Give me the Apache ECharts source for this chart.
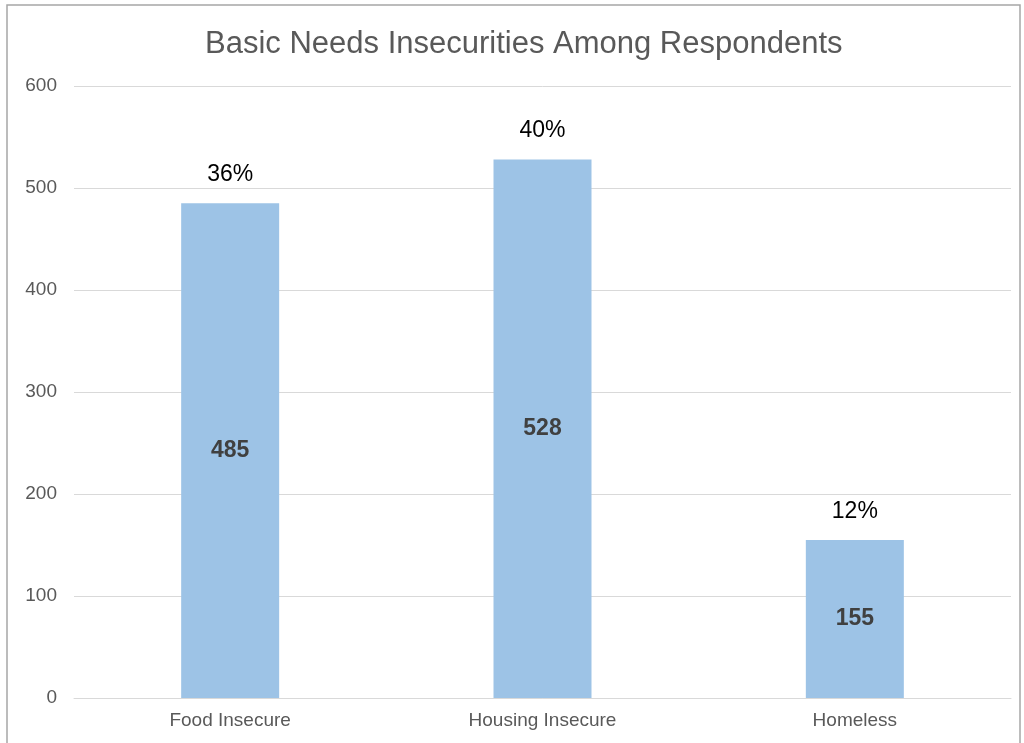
<!DOCTYPE html>
<html>
<head>
<meta charset="utf-8">
<script src="https://cdn.jsdelivr.net/npm/echarts@6/dist/echarts.min.js"></script>
<style>
  html, body { margin: 0; padding: 0; background: #fff; }
  #chart { width: 1024px; height: 743px; }
</style>
</head>
<body>
<div id="chart"></div>
<script>
  const categories = ["Food Insecure", "Housing Insecure", "Homeless"];
  const counts = [485, 528, 155];
  const percents = ["36%", "40%", "12%"];

  const chart = echarts.init(document.getElementById("chart"), null, { renderer: "canvas" });

  const option = {
    animation: false,
    backgroundColor: "#fff",
    graphic: [
      {
        type: "rect",
        shape: { x: 7, y: 5, width: 1013, height: 760 },
        style: { fill: "none", stroke: "#a6a6a6", lineWidth: 1.5 },
        silent: true,
      },
    ],
    title: {
      text: "Basic Needs Insecurities Among Respondents",
      left: 200,
      top: 24,
      textStyle: {
        fontFamily: "Liberation Sans",
        fontWeight: "normal",
        fontSize: 31,
        color: "#595959",
      },
    },
    grid: { left: 74, right: 13, top: 86, bottom: 45 },
    xAxis: {
      type: "category",
      data: categories,
      axisLine: { lineStyle: { color: "#d9d9d9", width: 1 } },
      axisTick: { show: false },
      axisLabel: {
        fontFamily: "Liberation Sans",
        fontSize: 19,
        color: "#595959",
        margin: 13,
      },
    },
    yAxis: {
      type: "value",
      min: 0,
      max: 600,
      interval: 100,
      axisLine: { show: false },
      axisTick: { show: false },
      splitLine: { lineStyle: { color: "#d9d9d9", width: 1 } },
      axisLabel: {
        fontFamily: "Liberation Sans",
        fontSize: 19,
        color: "#595959",
        margin: 17,
      },
    },
    series: [
      {
        type: "bar",
        data: counts,
        barWidth: 98,
        itemStyle: { color: "#9dc3e6" },
        label: {
          show: true,
          position: "inside",
          fontFamily: "Liberation Sans",
          fontWeight: "bold",
          fontSize: 23,
          color: "#404040",
        },
      },
      {
        // 百分比标签，挂在同一根柱子顶部
        type: "bar",
        data: counts,
        barWidth: 98,
        barGap: "-100%",
        itemStyle: { color: "transparent" },
        label: {
          show: true,
          position: "top",
          distance: 17,
          fontFamily: "Liberation Sans",
          fontSize: 23,
          color: "#000",
          formatter: (p) => percents[p.dataIndex],
        },
        silent: true,
      },
    ],
  };

  chart.setOption(option);
</script>
</body>
</html>
